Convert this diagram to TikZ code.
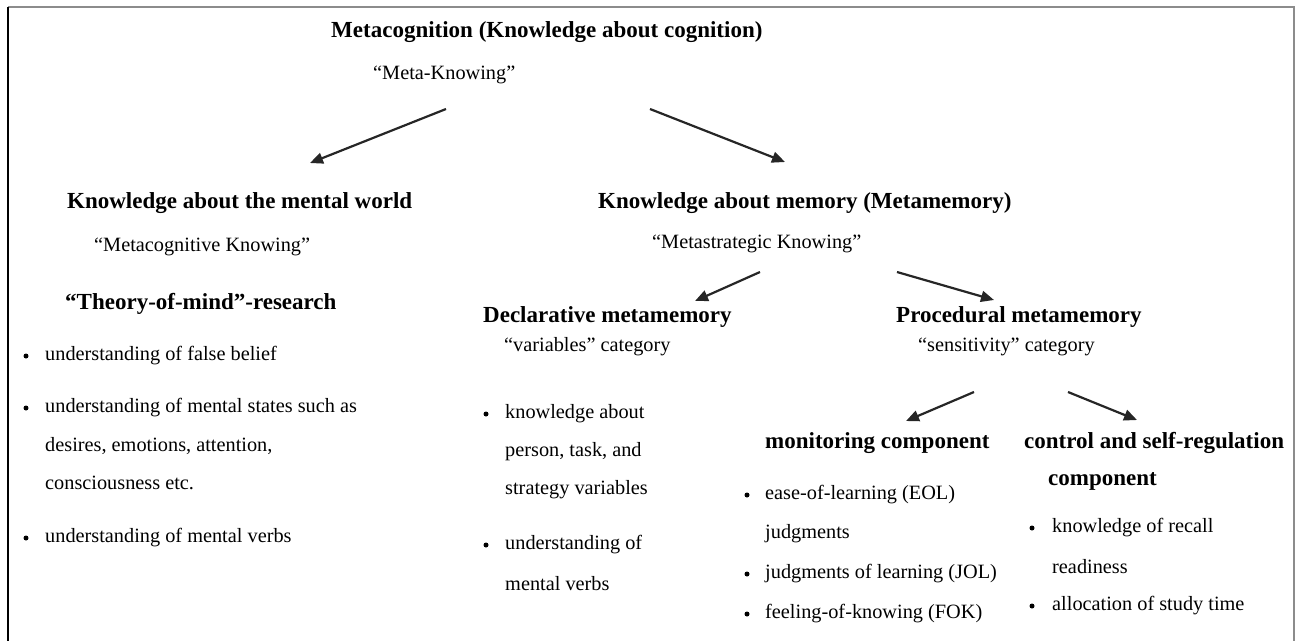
\documentclass[tikz,border=0pt]{standalone}
\usepackage{fontspec}
\setmainfont{Liberation Serif}
\usetikzlibrary{arrows.meta}
\begin{document}
\begin{tikzpicture}[x=1pt,y=-1pt,
  head/.style={inner sep=0pt,anchor=west,font=\fontsize{23}{27}\selectfont\bfseries},
  sub/.style={inner sep=0pt,anchor=west,font=\fontsize{20.3}{24}\selectfont},
  item/.style={inner sep=0pt,anchor=west,font=\fontsize{20.3}{24}\selectfont},
  dot/.style={circle,fill=black,inner sep=0pt,minimum size=5pt},
  link/.style={line width=2.2pt,draw=black!85,-{Triangle[length=13pt,width=11pt]}}]
\useasboundingbox (0,0) rectangle (1300,641);
% frame
\draw[black!45,line width=1.2pt] (8,7) -- (1294,7) -- (1294,641);
\draw[black,line width=1.4pt] (8,7) -- (8,641);

% root
\node[head] (root) at (331,32) {Metacognition (Knowledge about cognition)};
\node[sub] (rootq) at (373,75) {``Meta-Knowing''};

% arrows from root
\coordinate (a1s) at (446,109); \coordinate (a1e) at (310,163);
\coordinate (a2s) at (650,109); \coordinate (a2e) at (785,162);
\draw[link] (a1s) -- (a1e);
\draw[link] (a2s) -- (a2e);

% left branch
\node[head] (mental) at (67,203) {Knowledge about the mental world};
\node[sub] (mentalq) at (94,247) {``Metacognitive Knowing''};
\node[head] (tom) at (65,304) {``Theory-of-mind''-research};
\node[dot] (b1) at (26,356) {};
\node[item] (t1) at (45,356) {understanding of false belief};
\node[dot] (b2) at (26,408) {};
\node[item] (t2) at (45,408) {understanding of mental states such as};
\node[item] (t2b) at (45,446) {desires, emotions, attention,};
\node[item] (t2c) at (45,483) {consciousness etc.};
\node[dot] (b3) at (26,538) {};
\node[item] (t3) at (45,538) {understanding of mental verbs};

% right branch
\node[head] (memory) at (598,203) {Knowledge about memory (Metamemory)};
\node[sub] (memoryq) at (652,244) {``Metastrategic Knowing''};
\coordinate (a3s) at (760,272); \coordinate (a3e) at (695,301);
\coordinate (a4s) at (897,272); \coordinate (a4e) at (994,300);
\draw[link] (a3s) -- (a3e);
\draw[link] (a4s) -- (a4e);

% declarative
\node[head] (decl) at (483,317) {Declarative metamemory};
\node[sub] (declq) at (504,347) {``variables'' category};
\node[dot] (d1) at (486,414) {};
\node[item] (dt1) at (505,414) {knowledge about};
\node[item] (dt1b) at (505,452) {person, task, and};
\node[item] (dt1c) at (505,490) {strategy variables};
\node[dot] (d2) at (486,545) {};
\node[item] (dt2) at (505,545) {understanding of};
\node[item] (dt2b) at (505,584) {mental verbs};

% procedural
\node[head] (proc) at (896,317) {Procedural metamemory};
\node[sub] (procq) at (918,347) {``sensitivity'' category};
\coordinate (a5s) at (974,392); \coordinate (a5e) at (906,421);
\coordinate (a6s) at (1068,392); \coordinate (a6e) at (1137,420);
\draw[link] (a5s) -- (a5e);
\draw[link] (a6s) -- (a6e);

% monitoring
\node[head] (mon) at (765,443) {monitoring component};
\node[dot] (m1) at (747,495) {};
\node[item] (mt1) at (765,495) {ease-of-learning (EOL)};
\node[item] (mt1b) at (765,534) {judgments};
\node[dot] (m2) at (747,574) {};
\node[item] (mt2) at (765,574) {judgments of learning (JOL)};
\node[dot] (m3) at (747,614) {};
\node[item] (mt3) at (765,614) {feeling-of-knowing (FOK)};

% control
\node[head] (ctl) at (1024,443) {control and self-regulation};
\node[head] (ctlb) at (1048,481) {component};
\node[dot] (c1) at (1032,528) {};
\node[item] (ct1) at (1052,528) {knowledge of recall};
\node[item] (ct1b) at (1052,567) {readiness};
\node[dot] (c2) at (1032,606) {};
\node[item] (ct2) at (1052,606) {allocation of study time};
\end{tikzpicture}
\end{document}
